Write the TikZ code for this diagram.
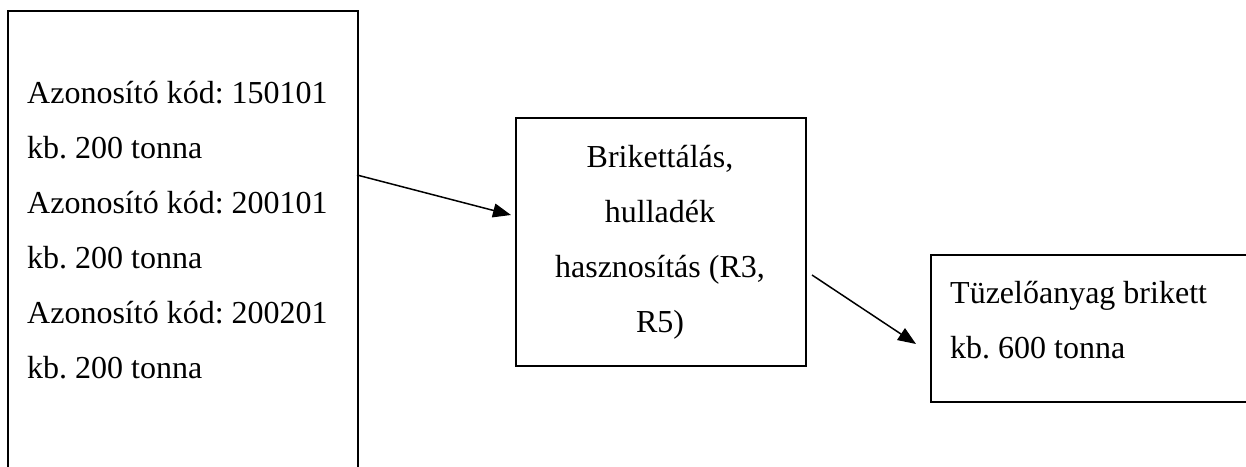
\documentclass[tikz,border=0pt]{standalone}
\usepackage{fontspec}
\setmainfont{Liberation Serif}
\usetikzlibrary{arrows.meta}
\frenchspacing
\begin{document}
\begin{tikzpicture}[x=1pt,y=-1pt,
  box/.style={draw, line width=1.6pt, inner sep=0pt, anchor=north west},
  txt/.style={font=\fontsize{32}{55}\selectfont, inner sep=0pt},
  arr/.style={line width=1.5pt, -{Triangle[length=18pt,width=14pt]}}]
\useasboundingbox (0,0) rectangle (1246,466);
\node[box, minimum width=350pt, minimum height=480pt] (src) at (7,10) {};
\node[box, minimum width=290pt, minimum height=248pt] (mid) at (515,117) {};
\node[box, minimum width=340pt, minimum height=147pt] (dst) at (930,254) {};
\node[txt, align=left, anchor=base west] (srctext) at (27,378)
  {Azonosító kód: 150101\\kb. 200 tonna\\Azonosító kód: 200101\\kb. 200 tonna\\Azonosító kód: 200201\\kb. 200 tonna};
\node[txt, align=center, anchor=base] (midtext) at (660,332)
  {Brikettálás,\\hulladék\\hasznosítás (R3,\\R5)};
\node[txt, align=left, anchor=base west] (dsttext) at (950,358)
  {Tüzelőanyag brikett\\kb. 600 tonna};
\coordinate (a1s) at (357,175);
\coordinate (a1e) at (511,215);
\coordinate (a2s) at (812,275);
\coordinate (a2e) at (916,344);
\draw[arr] (a1s) -- (a1e);
\draw[arr] (a2s) -- (a2e);
\end{tikzpicture}
\end{document}
